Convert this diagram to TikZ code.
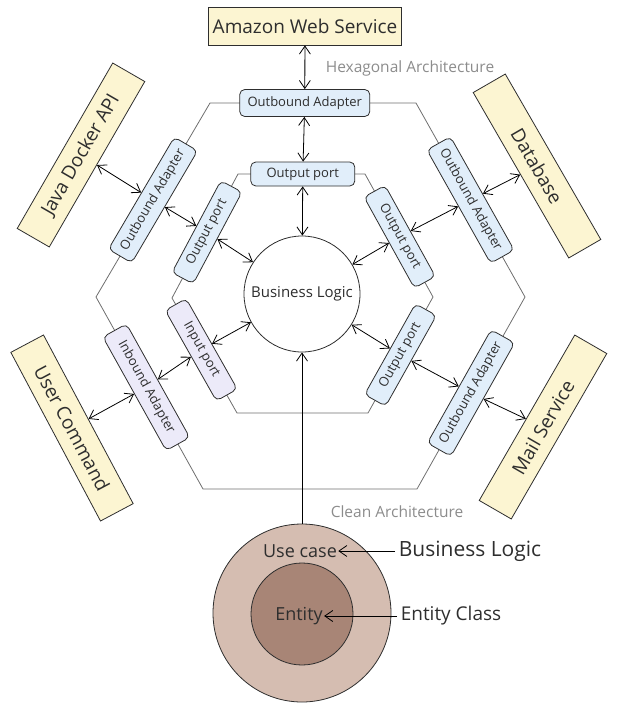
\documentclass[tikz,border=0pt]{standalone}
\usepackage{fontspec}
\setmainfont{Open Sans}
\usetikzlibrary{arrows.meta}

\definecolor{sysyellow}{HTML}{FCF5D2}
\definecolor{portblue}{HTML}{E1EEFA}
\definecolor{portlilac}{HTML}{ECEAF9}
\definecolor{usecasefill}{HTML}{D5BDB1}
\definecolor{entityfill}{HTML}{A88576}
\definecolor{hexgray}{HTML}{6E6E6E}
\definecolor{notegray}{HTML}{8C8C8C}
\definecolor{ink}{HTML}{2E2E2E}

\begin{document}
\begin{tikzpicture}[
            x = 1pt, y = -1pt, % pixel grid, y going down
            > = {Straight Barb[length=8pt, width=11pt]}, % open arrow heads
            thick, % line style
            text = ink,
            font = \fontsize{13}{15}\selectfont
        ]

        \tikzstyle{system}=[
            draw = ink,
            fill = sysyellow,
            minimum width = 191pt,
            minimum height = 37pt,
            font = \fontsize{19}{21}\selectfont
        ]
        \tikzstyle{adapter}=[
            draw = ink,
            fill = portblue,
            rounded corners = 5pt,
            inner sep = 0pt,
            minimum width = 130pt,
            minimum height = 27pt
        ]
        \tikzstyle{port}=[adapter, minimum width = 104pt, minimum height = 24pt]
        \tikzstyle{hex}=[draw = hexgray, thick]
        \tikzstyle{note}=[text = notegray, font = \fontsize{15.5}{17}\selectfont]

        \useasboundingbox (0,0) rectangle (618,709);

        % hexagon corners
        \coordinate (o1) at (210,103);
        \coordinate (o2) at (416,103);
        \coordinate (o3) at (525,297);
        \coordinate (o4) at (417,489);
        \coordinate (o5) at (203,489);
        \coordinate (o6) at (96,297);
        \coordinate (i1) at (238,174);
        \coordinate (i2) at (365,174);
        \coordinate (i3) at (433,297);
        \coordinate (i4) at (368,413);
        \coordinate (i5) at (237,413);
        \coordinate (i6) at (172,298);

        \draw[hex] (o1) -- (o2) -- (o3) -- (o4) -- (o5) -- (o6) -- cycle;
        \draw[hex] (i1) -- (i2) -- (i3) -- (i4) -- (i5) -- (i6) -- cycle;

        \node[note] (hexnote) at (410,68) {Hexagonal Architecture};
        \node[note] (cleannote) at (397,512) {Clean Architecture};

        % adapters
        \path (o1) -- (o2) node[adapter, pos=0.46] (oat) {Outbound Adapter};
        \path (o6) -- (o1) node[adapter, sloped, pos=0.5] (oal) {Outbound Adapter};
        \path (o2) -- (o3) node[adapter, sloped, pos=0.5] (oar) {Outbound Adapter};
        \path (o3) -- (o4) node[adapter, sloped, pos=0.5] (oab) {Outbound Adapter};
        \path (o6) -- (o5) node[adapter, sloped, pos=0.47, fill=portlilac] (ia) {Inbound Adapter};

        % ports
        \path (i1) -- (i2) node[port, pos=0.51] (opt) {Output port};
        \path (i6) -- (i1) node[port, sloped, pos=0.53] (opl) {Output port};
        \path (i2) -- (i3) node[port, sloped, pos=0.51] (opr) {Output port};
        \path (i3) -- (i4) node[port, sloped, pos=0.5] (opb) {Output port};
        \path (i6) -- (i5) node[port, sloped, pos=0.45, fill=portlilac] (ip) {Input port};

        \node[circle, draw=ink, fill=white, minimum size=116pt, inner sep=0pt,
              font=\fontsize{15}{17}\selectfont] (bl) at (302,294) {Business Logic};

        % outside systems
        \node[system, minimum width=193pt, minimum height=38pt] (aws) at (305,26) {Amazon Web Service};
        \node[system, rotate=60] (jda) at (81,155) {Java Docker API};
        \node[system, rotate=-60] (db) at (537,166) {Database};
        \node[system, rotate=-62] (uc) at (72,428) {User Command};
        \node[system, rotate=60] (ms) at (543,427) {Mail Service};

        \draw[<->] (aws) -- (oat);
        \draw[<->] (oat) -- (opt);
        \draw[<->] (opt) -- (bl);
        \draw[<->] (jda) -- (oal);
        \draw[<->] (oal) -- (opl);
        \draw[<->] (opl) -- (bl);
        \draw[<->] (db) -- (oar);
        \draw[<->] (oar) -- (opr);
        \draw[<->] (opr) -- (bl);
        \draw[<->] (uc) -- (ia);
        \draw[<->] (ia) -- (ip);
        \draw[<->] (ip) -- (bl);
        \draw[<->] (bl) -- (opb);
        \draw[<->] (opb) -- (oab);
        \draw[<->] (oab) -- (ms);

        % clean architecture rings
        \node[circle, draw=ink, fill=usecasefill, minimum size=178pt] (ring) at (302,613) {};
        \node[circle, draw=ink, fill=entityfill, minimum size=102pt] (core) at (302,614) {};
        \node[font=\fontsize{18}{20}\selectfont, inner sep=1pt] (usecase) at (300,551) {Use case};
        \node[font=\fontsize{18}{20}\selectfont, inner sep=1pt] (entity) at (299,616) {Entity};
        \node[font=\fontsize{21}{23}\selectfont] (bllabel) at (470,551) {Business Logic};
        \node[font=\fontsize{19}{21}\selectfont] (eclabel) at (451,616) {Entity Class};

        \draw[->] (ring.north) -- (bl.south);
        \draw[->] (bllabel) -- (usecase);
        \draw[->] (eclabel) -- (entity);

  \end{tikzpicture}
\end{document}
